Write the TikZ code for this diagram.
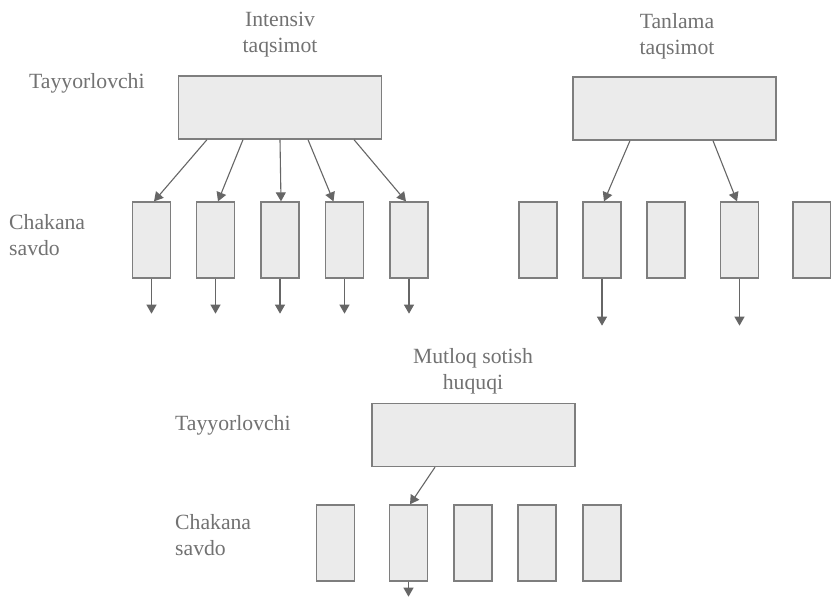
\documentclass[tikz,border=0pt]{standalone}
\usepackage{fontspec}
\setmainfont{Liberation Serif}
\usetikzlibrary{arrows.meta,positioning}
\definecolor{inkgray}{HTML}{727272}
\definecolor{linegray}{HTML}{7E7E7E}
\definecolor{boxgray}{HTML}{EBEBEB}
\definecolor{arrowgray}{HTML}{666666}

\begin{document}
\begin{tikzpicture}[
  x=1pt, y=-1pt,
  font=\fontsize{21.7}{26}\selectfont,
  hub/.style={draw=linegray, fill=boxgray, line width=1.3pt, minimum width=203pt,
              minimum height=63pt, inner sep=0pt},
  shop/.style={draw=linegray, fill=boxgray, line width=1.3pt, minimum width=38pt,
               minimum height=76pt, inner sep=0pt},
  arr/.style={-{Triangle[length=9pt,width=10pt]}, draw=arrowgray, line width=1.1pt},
  lab/.style={text=inkgray, align=center, inner sep=0pt},
  side/.style={text=inkgray, align=left, inner sep=0pt, anchor=west}
]
\useasboundingbox[fill=white] (0,0) rectangle (831,597);
\clip (0,0) rectangle (831,597);

% Intensive distribution
\node[hub] (topL) at (280,107.5) {};
\node[lab] (capL) at (280,35) {Intensiv\\taqsimot};
\node[side] (makerL) at (29,83) {Tayyorlovchi};
\node[side] (retailL) at (9,235) {Chakana\\savdo};
\foreach \x [count=\i] in {151.5,215.5,280,344.5,409}
  \node[shop] (l\i) at (\x,240) {};

% Selective distribution
\node[hub] (topR) at (674.5,108.5) {};
\node[lab] (capR) at (677,36) {Tanlama\\taqsimot};
\foreach \x [count=\i] in {538,602,666,739.5,812}
  \node[shop] (r\i) at (\x,240) {};

% Exclusive distribution
\node[hub] (topB) at (473.5,435) {};
\node[lab] (capB) at (473,371) {Mutloq sotish\\huquqi};
\node[side] (makerB) at (175,425) {Tayyorlovchi};
\node[side] (retailB) at (175,535) {Chakana\\savdo};
\foreach \x [count=\i] in {335.5,408.5,473,537,602}
  \node[shop] (b\i) at (\x,543) {};

% Edges
\foreach \s/\e/\i in {-73/2.5/1, -37/2.5/2, 0/1/3, 28/-11/4, 74/-3/5} {
  \draw[arr] ([xshift=\s]topL.south) -- ([xshift=\e]l\i.north);
  \draw[arr] (l\i.south) -- ++(0,35);
}
\foreach \s/\e/\i in {-44.5/2/2, 38.5/-2.5/4} {
  \draw[arr] ([xshift=\s]topR.south) -- ([xshift=\e]r\i.north);
  \draw[arr] (r\i.south) -- ++(0,47);
}
\draw[arr] ([xshift=-38.5]topB.south) -- ([xshift=1.5]b2.north);
\draw[arr] (b2.south) -- ++(0,15);
\end{tikzpicture}
\end{document}
